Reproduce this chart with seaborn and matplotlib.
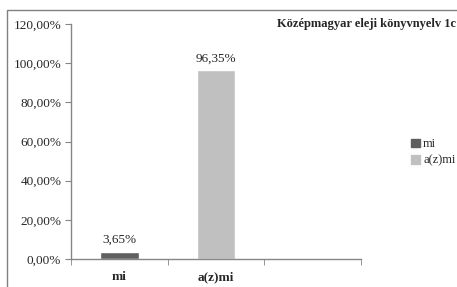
import numpy as np
import seaborn as sns
import matplotlib.pyplot as plt
import matplotlib.patches as mpatches
from matplotlib.ticker import FuncFormatter

categories = ["mi", "a(z)mi", ""]
values = [3.65, 96.35, np.nan]
legend_labels = ["mi", "a(z)mi"]
colors = ["#5f5f5f", "#c0c0c0", "#ffffff"]
title = "Középmagyar eleji könyvnyelv 1c"

sns.set_style("white")
plt.rcParams['font.family'] = ['Liberation Serif', 'DejaVu Serif']

fig = plt.figure(figsize=(4.57, 2.87), dpi=100)
ax = fig.add_axes([71 / 457, 1 - 259 / 287, 290 / 457, 235 / 287])

sns.barplot(x=categories, y=values, hue=categories, palette=colors,
            width=0.4, legend=False, ax=ax, saturation=1)

ax.set_ylim(0, 120)
ax.set_xlim(-0.5, 2.5)
ax.set_yticks(np.arange(0, 121, 20))
ax.yaxis.set_major_formatter(FuncFormatter(lambda v, p: f"{v:.2f}%".replace(".", ",")))
ax.tick_params(axis="y", left=True, length=4, color="#868686", labelsize=9.5, pad=3)
ax.tick_params(axis="x", bottom=False, labelsize=9.5, pad=5)
ax.set_xticks([-0.5, 0.5, 1.5, 2.5], minor=True)
ax.tick_params(axis="x", which="minor", bottom=True, length=4, color="#868686")
for lab in ax.get_xticklabels():
    lab.set_fontweight("bold")

for s in ["top", "right"]:
    ax.spines[s].set_visible(False)
for s in ["left", "bottom"]:
    ax.spines[s].set_color("#868686")
    ax.spines[s].set_linewidth(1)

for i, v in enumerate(values):
    if not np.isnan(v):
        ax.text(i, v + 3, f"{v:.2f}%".replace(".", ","), ha="center", va="bottom", fontsize=9.5)

fig.text(0.997, 1 - 18 / 287, title, ha="right", va="top",
         fontsize=9, fontweight="bold")

handles = [mpatches.Patch(color=colors[i], label=legend_labels[i]) for i in range(2)]
fig.legend(handles=handles, loc="upper left", bbox_to_anchor=(405 / 457, 1 - 132 / 287),
           frameon=False, fontsize=9, handlelength=0.7, handleheight=0.7,
           handletextpad=0.25, labelspacing=0.35, borderpad=0)

fig.patches.append(mpatches.Rectangle((7 / 457, -0.1), 1.2, 1 - 10 / 287 + 0.1,
                                      transform=fig.transFigure, fill=False,
                                      edgecolor="#808080", linewidth=1))

fig.savefig("out.png", dpi=100)
